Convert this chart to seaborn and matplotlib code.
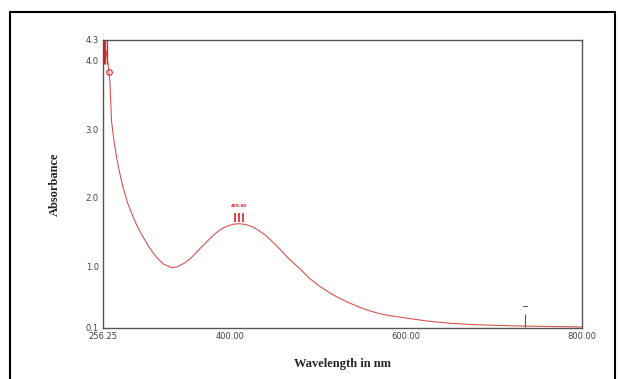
import numpy as np
import pandas as pd
import matplotlib
matplotlib.use("Agg")
import matplotlib.pyplot as plt
import seaborn as sns

# spectrum
wavelength = [256.25, 258, 260, 262, 264, 266, 269, 272, 275, 279, 284, 291, 296,
              302, 309, 317, 325, 334, 340, 348, 356, 365, 375, 383, 390, 398,
              405, 411, 418, 425, 432, 440, 446, 457, 468, 480, 491, 503, 514,
              525, 537, 548, 559, 570, 582, 600, 625, 650, 675, 700, 725, 750,
              775, 800]
absorbance = [4.3, 4.22, 4.12, 3.95, 3.7, 3.1, 2.8, 2.56, 2.37, 2.15, 1.93, 1.70, 1.56,
              1.42, 1.27, 1.13, 1.03, 0.98, 0.99, 1.04, 1.12, 1.24, 1.37, 1.47, 1.54, 1.59,
              1.615, 1.62, 1.61, 1.58, 1.53, 1.46, 1.39, 1.25, 1.10, 0.96, 0.82, 0.70, 0.61,
              0.53, 0.46, 0.40, 0.35, 0.31, 0.28, 0.245, 0.20, 0.17, 0.15, 0.14, 0.13, 0.125,
              0.12, 0.115]

peak_marks = [406.6, 411.0, 415.6]
top_marks = [257.5, 259.0, 260.5]
x_ticks = [256.25, 400, 600, 800]
y_ticks = [0.1, 1.0, 2.0, 3.0, 4.0, 4.3]

df = pd.DataFrame({"wl": wavelength, "abs": absorbance})

sns.set_style("white")
fig = plt.figure(figsize=(6.18, 3.79), dpi=100)
ax = fig.add_axes([0.1667, 0.1346, 0.775, 0.76])

red = "#d9534f"
sns.lineplot(data=df, x="wl", y="abs", ax=ax, color=red, linewidth=0.8)

# peak pick marks
ax.vlines(peak_marks, 1.65, 1.77, color="#e0202a", linewidth=1.2)
ax.text(411, 1.88, "409.80", color="#e0202a", fontsize=3, ha="center", va="center",
        fontweight="bold")
ax.vlines(top_marks, 3.95, 4.3, color="#e0202a", linewidth=0.9)
ax.plot([263.4], [3.83], marker="o", ms=4, mfc="none", mec="#e0202a", mew=0.8)
ax.vlines([735], 0.12, 0.3, color="#555555", linewidth=0.8)
ax.plot([733, 738], [0.42, 0.42], color="#555555", linewidth=0.8)

ax.set_xlim(256.25, 800)
ax.set_ylim(0.1, 4.3)
ax.set_xticks(x_ticks)
ax.set_xticklabels(["%.2f" % v for v in x_ticks])
ax.set_yticks(y_ticks)
ax.set_yticklabels(["%.1f" % v for v in y_ticks])
ax.tick_params(direction="in", length=4, width=0.7, labelsize=6, colors="#444444",
               pad=3)
for s in ax.spines.values():
    s.set_color("#555555")
    s.set_linewidth(1.0)

ax.set_xlabel("Wavelength in nm", family="Liberation Serif", fontweight="bold",
              fontsize=9, labelpad=12)
ax.set_ylabel("Absorbance", family="Liberation Serif", fontweight="bold",
              fontsize=9, labelpad=18)

# outer frame
fig.add_artist(plt.Line2D([10 / 618, 10 / 618], [0, 1 - 12 / 379], color="black",
                          linewidth=1.5, transform=fig.transFigure))
fig.add_artist(plt.Line2D([10 / 618, 615 / 618], [1 - 12 / 379, 1 - 12 / 379],
                          color="black", linewidth=1.5, transform=fig.transFigure))
fig.add_artist(plt.Line2D([615 / 618, 615 / 618], [0, 1 - 12 / 379], color="black",
                          linewidth=1.5, transform=fig.transFigure))

fig.savefig("out.png", dpi=100)
